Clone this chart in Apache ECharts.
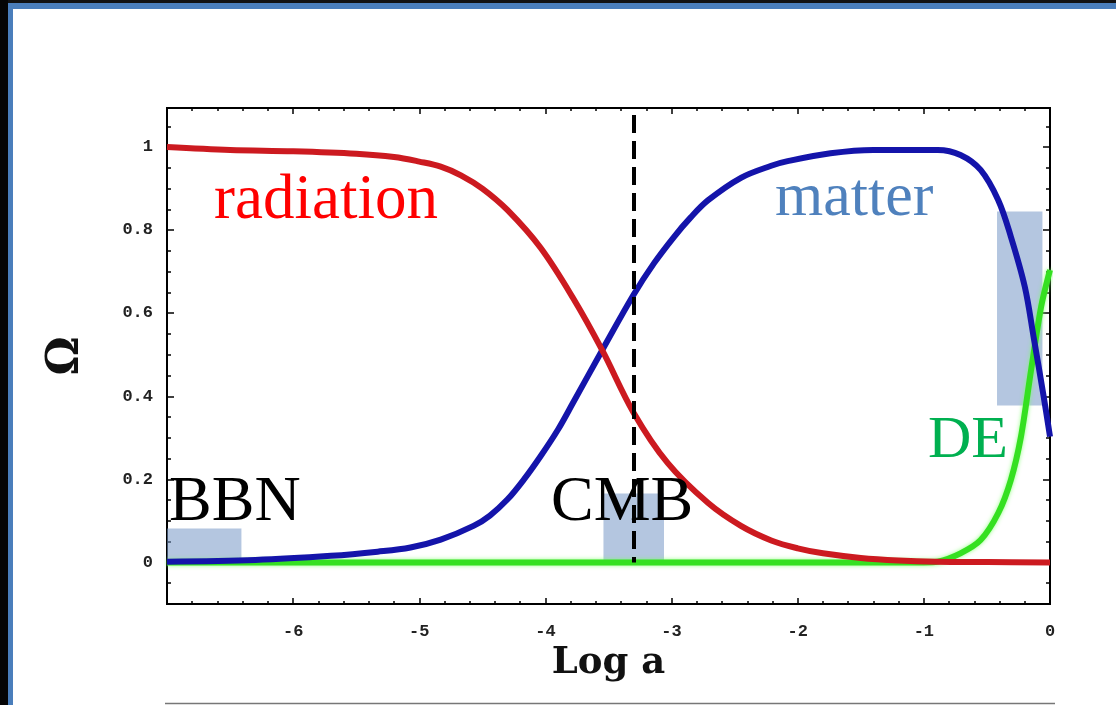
<!DOCTYPE html>
<html>
<head>
<meta charset="utf-8">
<script src="https://cdn.jsdelivr.net/npm/echarts@6/dist/echarts.min.js"></script>
<style>
  html, body { margin: 0; padding: 0; background: #fff; }
  #chart { width: 1116px; height: 705px; }
</style>
</head>
<body>
<div id="chart"></div>
<script>
// Density parameters versus log of the scale factor
const radiationLogA = [-7, -6.5, -6, -5.5, -5.2, -5.0, -4.83, -4.67, -4.5, -4.3, -4.04, -3.78, -3.55, -3.3, -3.03, -2.71, -2.45, -2.21, -2.0, -1.8, -1.5, -1.2, -0.9, -0.5, 0];
const radiationOmega = [1.0, 0.993, 0.99, 0.984, 0.976, 0.965, 0.953, 0.932, 0.9, 0.848, 0.758, 0.636, 0.511, 0.36, 0.239, 0.143, 0.088, 0.053, 0.034, 0.022, 0.011, 0.005, 0.002, 0.001, 0.0];

const matterLogA = [-7, -6.3, -5.7, -5.33, -5.07, -4.83, -4.57, -4.44, -4.3, -4.17, -4.04, -3.9, -3.78, -3.55, -3.3, -3.14, -2.98, -2.85, -2.71, -2.45, -2.21, -2.08, -1.74, -1.4, -0.89, -0.71, -0.55, -0.41, -0.31, -0.2, -0.13, -0.05, 0];
const matterOmega = [0.002, 0.006, 0.016, 0.026, 0.036, 0.055, 0.088, 0.113, 0.152, 0.2, 0.255, 0.32, 0.385, 0.511, 0.645, 0.72, 0.784, 0.83, 0.872, 0.926, 0.955, 0.966, 0.985, 0.993, 0.993, 0.981, 0.945, 0.872, 0.784, 0.664, 0.543, 0.399, 0.303];

const deLogA = [-7, -1.0, -0.89, -0.71, -0.55, -0.41, -0.31, -0.23, -0.15, -0.07, 0];
const deOmega = [0, 0, 0.002, 0.022, 0.054, 0.119, 0.199, 0.303, 0.463, 0.616, 0.704];

// Epoch bands: [logA start, logA end, Omega low, Omega high]
const bbnBand = [-7, -6.41, 0, 0.082];
const cmbBand = [-3.54, -3.06, 0, 0.166];
const deBand = [-0.42, -0.06, 0.378, 0.845];

// Recombination marker
const cmbLogA = -3.3;
const cmbLineTop = 1.077;

// Axis ticks
const xMajorTicks = [-7, -6, -5, -4, -3, -2, -1, 0];
const xLabelTicks = [-6, -5, -4, -3, -2, -1, 0];
const yMajorTicks = [0, 0.2, 0.4, 0.6, 0.8, 1];
const yLabels = ['0', '0.2', '0.4', '0.6', '0.8', '1'];

const xMinorTicks = [];
for (let i = -35; i <= 0; i++) if (i % 5 !== 0) xMinorTicks.push(i / 5);
const yMinorTicks = [];
for (let i = -1; i <= 21; i++) if (i % 4 !== 0) yMinorTicks.push(i / 20);

const pairs = (xs, ys) => xs.map((x, i) => [x, ys[i]]);

const chart = echarts.init(document.getElementById('chart'), null, { renderer: 'canvas' });

const tickFont = { fontFamily: 'Liberation Mono', fontSize: 17, fontWeight: 'bold', color: '#222' };
const frameLine = { show: true, onZero: false, lineStyle: { color: '#000', width: 2 } };

function xAx(pos, ticks, len, labels) {
  return {
    type: 'value', min: -7, max: 0, position: pos,
    axisLine: frameLine,
    splitLine: { show: false },
    axisTick: { show: true, inside: true, length: len, customValues: ticks, lineStyle: { color: '#000', width: 1.5 } },
    axisLabel: labels ? Object.assign({ show: true, margin: 19, customValues: xLabelTicks,
      formatter: v => String(Math.round(v)) }, tickFont) : { show: false }
  };
}
function yAx(pos, ticks, len, labels) {
  return {
    type: 'value', min: -0.1, max: 1.094, position: pos,
    axisLine: frameLine,
    splitLine: { show: false },
    axisTick: { show: true, inside: true, length: len, customValues: ticks, lineStyle: { color: '#000', width: 1.5 } },
    axisLabel: labels ? Object.assign({ show: true, margin: 14, customValues: yMajorTicks,
      formatter: v => yLabels[yMajorTicks.findIndex(t => Math.abs(t - v) < 1e-6)] }, tickFont) : { show: false }
  };
}

const xAxes = [xAx('bottom', xMajorTicks, 6, true), xAx('bottom', xMinorTicks, 3, false),
               xAx('top', xMajorTicks, 6, false), xAx('top', xMinorTicks, 3, false)];
xAxes[0].name = 'Log a';
xAxes[0].nameLocation = 'middle';
xAxes[0].nameGap = 35;
xAxes[0].nameTextStyle = { fontFamily: 'DejaVu Serif', fontWeight: 'bold', fontSize: 37, color: '#111' };

const yAxes = [yAx('left', yMajorTicks, 7, true), yAx('left', yMinorTicks, 4, false),
               yAx('right', yMajorTicks, 7, false), yAx('right', yMinorTicks, 4, false)];
yAxes[0].name = 'Ω';
yAxes[0].nameLocation = 'middle';
yAxes[0].nameRotate = 90;
yAxes[0].nameGap = 78;
yAxes[0].nameTextStyle = { fontFamily: 'DejaVu Serif', fontWeight: 'bold', fontSize: 44, color: '#111' };

function band(b) {
  return [{ coord: [b[0], b[3]] }, { coord: [b[1], b[2]] }];
}

const option = {
  animation: false,
  backgroundColor: '#fff',
  grid: { left: 167, top: 108, width: 883, height: 496, containLabel: false },
  xAxis: xAxes,
  yAxis: yAxes,
  series: [
    {
      name: 'DE', type: 'line', data: pairs(deLogA, deOmega), symbol: 'none', smooth: 0.3, z: 2,
      lineStyle: { color: '#35e021', width: 6, shadowColor: 'rgba(120,255,100,0.8)', shadowBlur: 4 }
    },
    {
      name: 'matter', type: 'line', data: pairs(matterLogA, matterOmega), symbol: 'none', smooth: 0.35, z: 3,
      lineStyle: { color: '#1414aa', width: 6 }
    },
    {
      name: 'radiation', type: 'line', data: pairs(radiationLogA, radiationOmega), symbol: 'none', smooth: 0.35, z: 4,
      lineStyle: { color: '#cc1a20', width: 6 }
    },
    {
      name: 'epochs', type: 'line', data: [], z: 6, silent: true,
      markArea: {
        silent: true,
        itemStyle: { color: 'rgba(118,152,198,0.55)' },
        label: { show: false },
        data: [band(bbnBand), band(cmbBand), band(deBand)]
      },
      markLine: {
        silent: true, symbol: 'none', label: { show: false },
        lineStyle: { color: '#000', width: 4, type: [18, 8] },
        data: [[{ coord: [cmbLogA, cmbLineTop] }, { coord: [cmbLogA, 0] }]]
      }
    }
  ],
  graphic: [
    // slide border
    { type: 'rect', z: 100, shape: { x: 0, y: 0, width: 1116, height: 3 }, style: { fill: '#111' } },
    { type: 'rect', z: 100, shape: { x: 0, y: 3, width: 1116, height: 6 }, style: { fill: '#4a7ebb' } },
    { type: 'rect', z: 100, shape: { x: 0, y: 0, width: 8, height: 705 }, style: { fill: '#050505' } },
    { type: 'rect', z: 100, shape: { x: 8, y: 9, width: 5, height: 696 }, style: { fill: '#4a7ebb' } },
    { type: 'line', z: 100, shape: { x1: 165, y1: 703.5, x2: 1055, y2: 703.5 }, style: { stroke: '#777', lineWidth: 1.5 } },
    // curve and epoch labels
    { type: 'text', z: 100, x: 214, y: 201, style: { text: 'radiation', fill: '#ff0000', font: '63px "Liberation Serif"', verticalAlign: 'middle' } },
    { type: 'text', z: 100, x: 775, y: 199, style: { text: 'matter', fill: '#4f81bd', font: '62px "Liberation Serif"', verticalAlign: 'middle' } },
    { type: 'text', z: 100, x: 928, y: 441, style: { text: 'DE', fill: '#00b050', font: '60px "Liberation Serif"', verticalAlign: 'middle' } },
    { type: 'text', z: 100, x: 169, y: 503, style: { text: 'BBN', fill: '#000', font: '64px "Liberation Serif"', verticalAlign: 'middle' } },
    { type: 'text', z: 100, x: 551, y: 503, style: { text: 'CMB', fill: '#000', font: '64px "Liberation Serif"', verticalAlign: 'middle' } }
  ]
};

chart.setOption(option);
</script>
</body>
</html>
